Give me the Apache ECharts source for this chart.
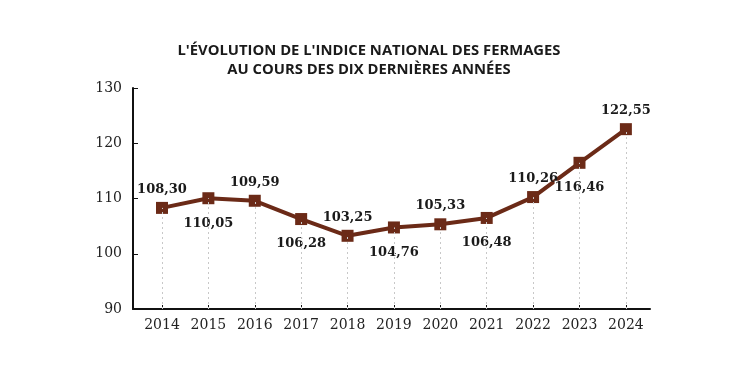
<!DOCTYPE html>
<html>
<head>
<meta charset="utf-8">
<script src="https://cdn.jsdelivr.net/npm/echarts@6/dist/echarts.min.js"></script>
<style>
html,body{margin:0;padding:0;background:#fff;}
#c{width:747px;height:374px;}
</style>
</head>
<body>
<div id="c"></div>
<script>
const titleLines = ["L'ÉVOLUTION DE L'INDICE NATIONAL DES FERMAGES", "AU COURS DES DIX DERNIÈRES ANNÉES"];
const years = [2014, 2015, 2016, 2017, 2018, 2019, 2020, 2021, 2022, 2023, 2024];
const values = [108.30, 110.05, 109.59, 106.28, 103.25, 104.76, 105.33, 106.48, 110.26, 116.46, 122.55];
const yTicks = [90, 100, 110, 120, 130];

const lineColor = '#6b2a17';
const serif = '"DejaVu Serif", serif';
const fmt = v => v.toFixed(2).replace('.', ',');

const chart = echarts.init(document.getElementById('c'));
chart.setOption({
  animation: false,
  backgroundColor: '#fff',
  title: {
    text: titleLines.join('\n'),
    left: 364,
    textAlign: 'center',
    top: 36,
    textStyle: { fontFamily: '"Open Sans"', fontWeight: 'bold', fontSize: 14.8, color: '#1a1a1a', lineHeight: 19 }
  },
  grid: { left: 133, right: 97, top: 88, bottom: 65 },
  xAxis: {
    type: 'value',
    min: 2013.375,
    max: 2024.52,
    axisLine: { show: true, lineStyle: { color: '#111', width: 2 } },
    axisTick: { show: true, inside: true, length: 4, customValues: years, lineStyle: { color: '#111', width: 1 } },
    axisLabel: { customValues: years, margin: 9, fontFamily: serif, fontSize: 14, color: '#222', formatter: v => String(v) },
    splitLine: { show: false }
  },
  yAxis: {
    type: 'value',
    min: yTicks[0],
    max: yTicks[yTicks.length - 1],
    interval: 10,
    axisLine: { show: true, lineStyle: { color: '#111', width: 2 } },
    axisTick: { show: true, inside: true, length: 5, lineStyle: { color: '#111', width: 1 } },
    axisLabel: { margin: 11, fontFamily: serif, fontSize: 14, color: '#222' },
    splitLine: { show: false }
  },
  series: [
    {
      type: 'line',
      z: 1,
      data: years.map((y, i) => [y, values[i]]),
      symbol: 'none',
      lineStyle: { opacity: 0 },
      silent: true,
      markLine: {
        silent: true,
        symbol: 'none',
        label: { show: false },
        lineStyle: { type: [2, 3], color: '#c8c8c8', width: 1 },
        data: years.map((y, i) => [{ coord: [y, yTicks[0]] }, { coord: [y, values[i]] }])
      }
    },
    {
      type: 'line',
      z: 3,
      data: years.map((y, i) => ({
        value: [y, values[i]],
        label: i % 2 === 0
          ? { position: 'top', distance: 6 }
          : { position: 'bottom', distance: 12, backgroundColor: '#fff', lineHeight: 12, padding: [1, 0, 1, 0] }
      })),
      symbol: 'rect',
      symbolSize: 12,
      lineStyle: { color: lineColor, width: 4 },
      itemStyle: { color: lineColor },
      label: {
        show: true,
        fontFamily: serif,
        fontWeight: 'bold',
        fontSize: 13,
        color: '#1a1a1a',
        formatter: p => fmt(p.value[1])
      }
    }
  ]
});
</script>
</body>
</html>
